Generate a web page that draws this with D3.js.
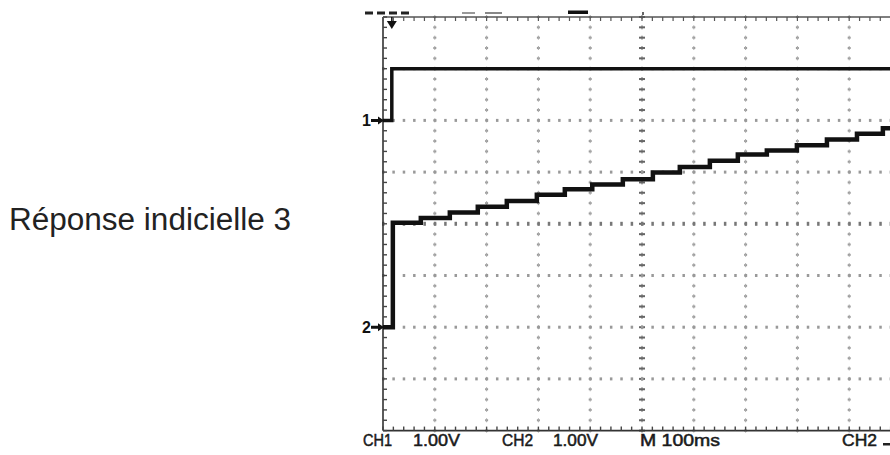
<!DOCTYPE html>
<html><head><meta charset="utf-8">
<script src="https://cdn.jsdelivr.net/npm/d3@7"></script>
<style>html,body{margin:0;padding:0;background:#fff;}svg{display:block;}</style>
</head><body>
<svg id="c" width="890" height="455"></svg>
<script>
// ---- data ----
const title = "Réponse indicielle 3";
// CH1: step input (time in ms, level in V)
const ch1Times  = [0, 17, 1000];
const ch1Values = [0, 1.00, 1.00];
// CH2: staircase response (time in ms, level in V)
const ch2Times  = [0, 19, 73, 129, 183, 239, 297, 351, 404, 463, 521, 573, 631, 685, 741, 799, 857, 915, 965, 1000];
const ch2Values = [0, 2.02, 2.11, 2.22, 2.33, 2.44, 2.56, 2.67, 2.76, 2.86, 2.99, 3.10, 3.22, 3.34, 3.42, 3.52, 3.63, 3.74, 3.85, 3.85];
const channelMarkers = ["1", "2"];
const readoutLabels = ["CH1", "1.00V", "CH2", "1.00V", "M 100ms", "CH2"];

// ---- layout ----
const svg = d3.select("#c");
const x = d3.scaleLinear().domain([0, 1000]).range([383, 901]);   // 100 ms / div
const yDiv = d3.scaleLinear().domain([-4, 4]).range([430.6, 17]);  // divisions
const ch1Pos = 2, ch2Pos = -2, vPerDiv = 1;
const y1 = v => yDiv(ch1Pos + v / vPerDiv);
const y2 = v => yDiv(ch2Pos + v / vPerDiv);

const gLeft = x(0), gRight = x(1000), gTop = yDiv(4), gBottom = yDiv(-4);

// title on the left
svg.append("text").attr("x", 9).attr("y", 230)
  .attr("font-family", "Liberation Sans, Arial, sans-serif").attr("font-size", 31)
  .attr("fill", "#222").attr("textLength", 282).attr("lengthAdjust", "spacingAndGlyphs")
  .text(title);

const g = svg.append("g");

// grid dots
const xMinor = d3.range(0, 1000.1, 20);
const yMinor = d3.range(-4, 4.01, 0.2);
const xMajor = d3.range(100, 1000, 100);
const yMajor = d3.range(-3, 4, 1);
xMajor.forEach(t => {
  const center = t === 500;
  g.selectAll(null).data(yMinor).enter().append("rect")
    .attr("x", x(t) - (center ? 3 : 1.5)).attr("y", d => yDiv(d) - 1)
    .attr("width", center ? 6 : 3).attr("height", 2)
    .attr("fill", center ? "#666" : "#999");
  g.selectAll(null).data(yMinor).enter().append("rect")
    .attr("x", x(t) - 0.5).attr("y", d => yDiv(d) - 2)
    .attr("width", 1).attr("height", 4)
    .attr("fill", center ? "#666" : "#aaa");
});
yMajor.forEach(d => {
  const center = d === 0;
  g.selectAll(null).data(xMinor).enter().append("rect")
    .attr("x", t => x(t) - 1).attr("y", yDiv(d) - (center ? 2 : 1.5))
    .attr("width", 2.5).attr("height", center ? 4 : 3)
    .attr("fill", center ? "#777" : "#999");
});

// border with minor ticks
g.append("line").attr("x1", gLeft).attr("x2", gLeft).attr("y1", gTop).attr("y2", gBottom)
  .attr("stroke", "#333").attr("stroke-width", 1.6);
g.append("line").attr("x1", gLeft).attr("x2", gRight).attr("y1", gTop).attr("y2", gTop)
  .attr("stroke", "#555").attr("stroke-width", 1.3);
g.append("line").attr("x1", gLeft).attr("x2", gRight).attr("y1", gBottom).attr("y2", gBottom)
  .attr("stroke", "#333").attr("stroke-width", 1.6);
g.selectAll(null).data(yMinor).enter().append("line")
  .attr("x1", gLeft).attr("x2", gLeft + 4).attr("y1", d => yDiv(d)).attr("y2", d => yDiv(d))
  .attr("stroke", "#444").attr("stroke-width", 1.4);
g.selectAll(null).data(xMinor).enter().append("line")
  .attr("x1", d => x(d)).attr("x2", d => x(d)).attr("y1", gBottom).attr("y2", gBottom - 4)
  .attr("stroke", "#444").attr("stroke-width", 1.4);
g.selectAll(null).data(xMinor).enter().append("line")
  .attr("x1", d => x(d)).attr("x2", d => x(d)).attr("y1", gTop).attr("y2", gTop + 4)
  .attr("stroke", "#555").attr("stroke-width", 1.2);

// traces
const line1 = d3.line().x((d, i) => x(ch1Times[i])).y(d => y1(d)).curve(d3.curveStepAfter);
const line2 = d3.line().x((d, i) => x(ch2Times[i])).y(d => y2(d)).curve(d3.curveStepAfter);
g.append("path").attr("d", line1(ch1Values)).attr("fill", "none")
  .attr("stroke", "#111").attr("stroke-width", 3.5);
g.append("path").attr("d", line2(ch2Values)).attr("fill", "none")
  .attr("stroke", "#111").attr("stroke-width", 4.5);

// channel ground markers
[[channelMarkers[0], y1(0)], [channelMarkers[1], y2(0)]].forEach(([lab, yy]) => {
  svg.append("text").attr("x", 362).attr("y", yy + 6)
    .attr("font-family", "Liberation Sans, Arial, sans-serif").attr("font-weight", "bold")
    .attr("font-size", 16).attr("fill", "#111").text(lab);
  svg.append("path").attr("d", `M371,${yy - 1.5}L378,${yy - 1.5}L378,${yy - 4}L384,${yy}L378,${yy + 4}L378,${yy + 1.5}L371,${yy + 1.5}Z`)
    .attr("fill", "#111");
});

// top status marks
[[365, 8], [377, 8], [389, 8], [401, 8]].forEach(([a, w]) =>
  svg.append("rect").attr("x", a).attr("y", 11.5).attr("width", w).attr("height", 3).attr("fill", "#222"));
svg.append("rect").attr("x", 462).attr("y", 12).attr("width", 13).attr("height", 2).attr("fill", "#999");
svg.append("rect").attr("x", 485).attr("y", 12).attr("width", 17).attr("height", 2).attr("fill", "#888");
svg.append("rect").attr("x", 568).attr("y", 10.5).attr("width", 20).attr("height", 3.5).attr("fill", "#111");
svg.append("rect").attr("x", 642).attr("y", 12).attr("width", 2).attr("height", 3).attr("fill", "#666");
// trigger position marker
const tx = x(17);
svg.append("path").attr("d", `M${tx - 5},21L${tx + 5},21L${tx},29Z`).attr("fill", "#111");
svg.append("rect").attr("x", tx - 0.75).attr("y", 17).attr("width", 1.5).attr("height", 5).attr("fill", "#111");

// readouts
const readX = [363, 413, 502, 553, 640, 842];
const readW = [29, 47, 31, 45, 80, 35];
readoutLabels.forEach((t, i) => {
  svg.append("text").attr("x", readX[i]).attr("y", 446)
    .attr("font-family", "Liberation Sans Narrow, Liberation Sans, Arial, sans-serif")
    .attr("font-size", 16).attr("fill", "#1a1a1a")
    .attr("stroke", "#1a1a1a").attr("stroke-width", 0.5)
    .attr("textLength", readW[i]).attr("lengthAdjust", "spacingAndGlyphs").text(t);
});
svg.append("rect").attr("x", 883).attr("y", 443).attr("width", 7).attr("height", 2.5).attr("fill", "#222");
</script>
</body></html>
